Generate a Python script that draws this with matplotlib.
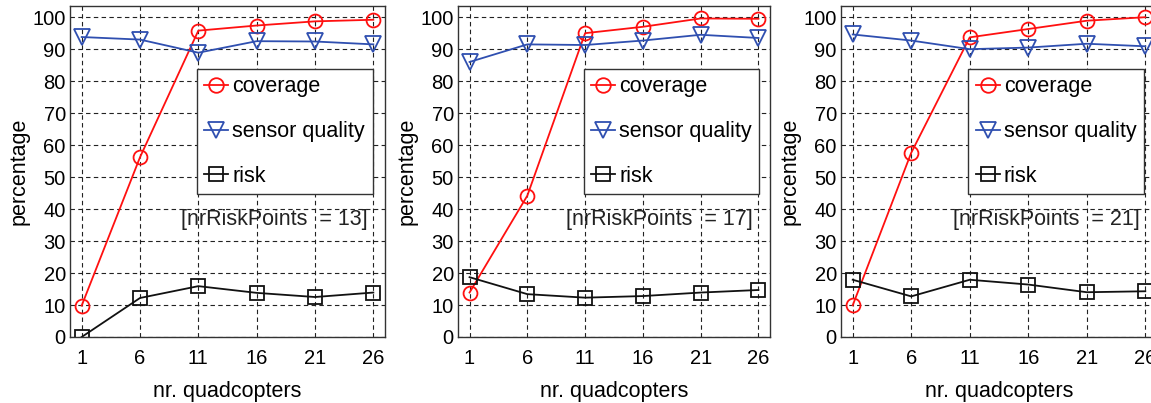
import matplotlib

matplotlib.use("Agg")
import matplotlib.pyplot as plt

plt.rcParams["font.family"] = ["Liberation Sans", "DejaVu Sans"]

quadcopters = [1, 6, 11, 16, 21, 26]
risk_points = [13, 17, 21]

coverage_13 = [9.8, 56.2, 95.8, 97.4, 98.7, 99.2]
sensor_13 = [93.8, 93.0, 88.9, 92.5, 92.4, 91.5]
risk_13 = [0.0, 12.2, 15.9, 13.8, 12.5, 13.9]

coverage_17 = [13.9, 44.2, 95.0, 97.0, 99.6, 99.5]
sensor_17 = [86.0, 91.5, 91.3, 92.7, 94.5, 93.5]
risk_17 = [18.7, 13.4, 12.3, 12.8, 13.9, 14.7]

coverage_21 = [9.9, 57.6, 93.7, 96.3, 98.9, 100.0]
sensor_21 = [94.6, 92.7, 90.0, 90.5, 91.7, 90.9]
risk_21 = [17.9, 12.7, 17.9, 16.4, 14.0, 14.3]

panels = [
    (coverage_13, sensor_13, risk_13),
    (coverage_17, sensor_17, risk_17),
    (coverage_21, sensor_21, risk_21),
]

fig = plt.figure(figsize=(11.51, 4.03), dpi=100)
lefts = [70 / 1151, 458 / 1151, 841 / 1151]
widths = [315 / 1151, 312 / 1151, 316 / 1151]

for left, width, (cov, sen, risk), n in zip(lefts, widths, panels, risk_points):
    ax = fig.add_axes([left, 66 / 403, width, 331 / 403])
    ms = 10
    ax.plot(quadcopters, cov, color="#ff1010", marker="o", ms=ms, mfc="none",
            mew=1.3, lw=1.3, label="coverage")
    ax.plot(quadcopters, sen, color="#2f4fb0", marker="v", ms=ms + 1, mfc="none",
            mew=1.3, lw=1.3, label="sensor quality")
    ax.plot(quadcopters, risk, color="#111111", marker="s", ms=ms, mfc="none",
            mew=1.3, lw=1.3, label="risk")

    ax.set_xlim(0, 27)
    ax.set_ylim(0, 103.5)
    ax.set_xticks(quadcopters)
    ax.set_yticks(range(0, 101, 10))
    ax.tick_params(labelsize=14.5, length=0)
    ax.tick_params(axis="x", pad=9)
    ax.tick_params(axis="y", pad=3)
    ax.grid(True, color="#222222", linestyle=(0, (4, 3)), linewidth=0.8)
    ax.set_axisbelow(True)
    for sp in ax.spines.values():
        sp.set_color("#333333")
        sp.set_linewidth(1.0)

    ax.set_xlabel("nr. quadcopters", fontsize=15.5, labelpad=9)
    ax.set_ylabel("percentage", fontsize=15.5, labelpad=2)

    leg = ax.legend(loc="upper left", bbox_to_anchor=(0.403, 0.81), fontsize=15.5,
                    handlelength=1.1, handletextpad=0.2, labelspacing=1.1,
                    borderpad=0.35, borderaxespad=0, fancybox=False,
                    framealpha=1.0, edgecolor="#333333", markerscale=1.05)
    leg.get_frame().set_linewidth(1.0)

    ax.text(0.946, 0.355, f"[nrRiskPoints  = {n}]", transform=ax.transAxes,
            ha="right", va="center", fontsize=15.5, color="#222222")

fig.savefig("out.png", dpi=100)
plt.close(fig)
